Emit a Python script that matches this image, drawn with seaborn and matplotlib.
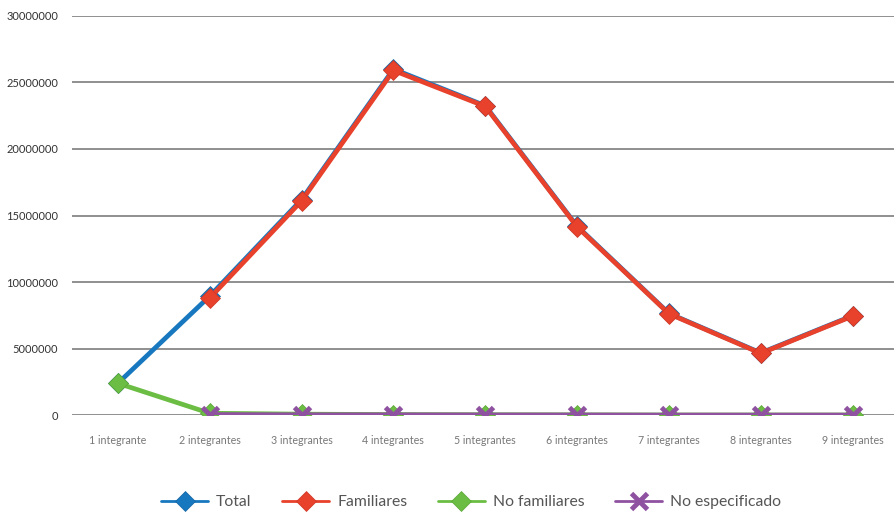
import matplotlib
matplotlib.use("Agg")
import matplotlib.pyplot as plt
import seaborn as sns
import numpy as np
import pandas as pd
from matplotlib.ticker import FuncFormatter

# Datos: hogares por número de integrantes
categorias = ["1 integrante", "2 integrantes", "3 integrantes", "4 integrantes",
              "5 integrantes", "6 integrantes", "7 integrantes", "8 integrantes",
              "9 integrantes"]
total = [2400000, 8950000, 16200000, 26000000, 23250000, 14200000, 7650000, 4680000, 7480000]
familiares = [np.nan, 8800000, 16100000, 25900000, 23200000, 14150000, 7620000, 4650000, 7450000]
no_familiares = [2400000, 150000, 80000, 50000, 40000, 30000, 20000, 20000, 20000]
no_especificado = [np.nan, 50000, 30000, 30000, 20000, 20000, 10000, 10000, 10000]

series = ["Total", "Familiares", "No familiares", "No especificado"]
colores = ["#1878bf", "#e8412c", "#6bbd43", "#8f52a1"]
bordes = ["#1466a3", "#cf3624", "#5aa637", "#8f52a1"]
marcadores = ["D", "D", "D", "x"]

sns.set_style("white")
plt.rcParams['font.family'] = ['Lato', 'DejaVu Sans']

fig = plt.figure(figsize=(8.94, 5.12), dpi=100)
ax = fig.add_axes([0.0805, 0.189, 0.9195, 0.78])

valores = [total, familiares, no_familiares, no_especificado]
for nombre, vals, color, borde, m in zip(series, valores, colores, bordes, marcadores):
    df = pd.DataFrame({"cat": categorias, "valor": vals})
    if m == "x":
        sns.lineplot(data=df, x="cat", y="valor", ax=ax, color=color, linewidth=3.4,
                     marker="x", markersize=11, markeredgewidth=3.5, markeredgecolor=color,
                     label=nombre, zorder=4)
    else:
        sns.lineplot(data=df, x="cat", y="valor", ax=ax, color=color, linewidth=3.4,
                     marker=m, markersize=10.5, markeredgewidth=0.5, markeredgecolor=borde,
                     label=nombre, zorder=3)

ax.set_ylim(0, 30000000)
ax.set_yticks(range(0, 30000001, 5000000))
ax.yaxis.set_major_formatter(FuncFormatter(lambda v, p: f"{int(v)}"))
ax.set_xlim(-0.5, 8.45)
ax.grid(axis="y", color="#727272", linewidth=1.1)
ax.set_axisbelow(True)
for s in ax.spines.values():
    s.set_visible(False)
ax.tick_params(axis="y", labelsize=8, colors="#333333", length=0, pad=10)
ax.tick_params(axis="x", labelsize=7.7, colors="#777777", length=0, pad=14)
ax.set_xlabel("")
ax.set_ylabel("")

handles, labels = ax.get_legend_handles_labels()
ax.legend_.remove()
leg = fig.legend(handles, labels, loc="lower center", bbox_to_anchor=(0.527, -0.022), ncol=4,
                 frameon=False, fontsize=11.3, handlelength=3.0, columnspacing=1.95,
                 handletextpad=0.5, labelcolor="#555555")
for linea in leg.get_lines():
    linea.set_linewidth(2)

fig.savefig("out.png", dpi=100)
